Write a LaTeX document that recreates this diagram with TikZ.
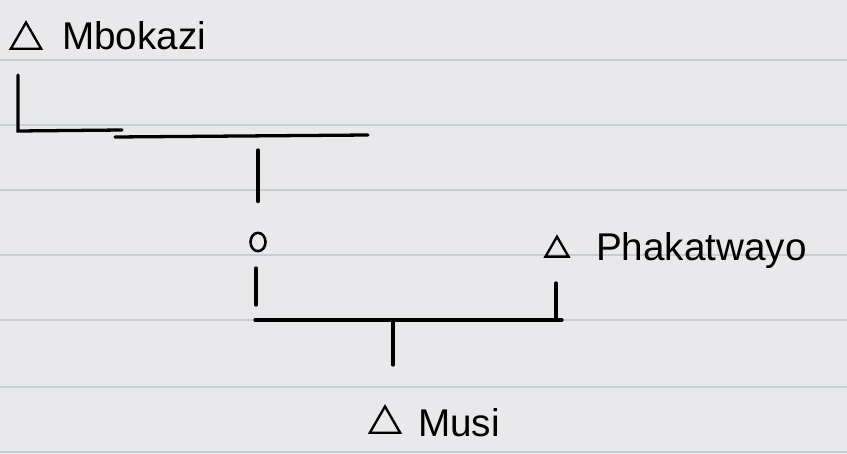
\documentclass[tikz,border=0pt]{standalone}
\usepackage{fontspec}
\setmainfont{Liberation Sans}
\usetikzlibrary{shapes.geometric}
\definecolor{paper}{RGB}{233,233,236}
\definecolor{ruling}{RGB}{198,205,216}
\begin{document}
\begin{tikzpicture}[x=0.03cm,y=-0.03cm,
  male/.style={draw,regular polygon,regular polygon sides=3,inner sep=0pt,
    minimum size=1.05cm,line width=2pt},
  female/.style={draw,ellipse,inner sep=0pt,minimum width=0.45cm,
    minimum height=0.55cm,line width=2.2pt},
  personname/.style={anchor=base west,font=\fontsize{33}{36}\selectfont},
  kin/.style={line width=2.8pt,line cap=round}]
  % paper and ruling
  \fill[paper] (0,0) rectangle (847,454);
  \useasboundingbox (0,0) rectangle (847,454);
  \foreach \y in {60,125,190,255,320,387,452}
    \draw[ruling,line width=0.9pt] (0,\y) -- (847,\y);
  % people
  \node[male] (mbokazi) at (26,40) {};
  \node[personname] (mbokaziname) at (58,50) {Mbokazi};
  \node[female] (her) at (258,242) {};
  \node[male,minimum size=0.8cm] (phakatwayo) at (557,250) {};
  \node[personname] (phakatwayoname) at (592,260) {Phakatwayo};
  \node[male] (musi) at (385,424) {};
  \node[personname] (musiname) at (414,436) {Musi};
  % junctions
  \coordinate (mTop) at (18,75);
  \coordinate (mCorner) at (18,131);
  \coordinate (mEnd) at (122,130);
  \coordinate (wL) at (115,137);
  \coordinate (wR) at (368,135);
  \coordinate (wD) at (258,150);
  \coordinate (hTop) at (256,268);
  \coordinate (hBot) at (256,305);
  \coordinate (cL) at (255,320);
  \coordinate (cR) at (562,320);
  \coordinate (cM) at (393,322);
  \coordinate (cMd) at (393,365);
  \coordinate (pTop) at (556,283);
  \coordinate (pBot) at (556,318);
  % lines of descent
  \draw[kin] (mTop) -- (mCorner) -- (mEnd);
  \draw[kin] (wL) -- (wR);
  \draw[kin,shorten >=0.9cm] (wD) -- (her);
  \draw[kin] (hTop) -- (hBot);
  \draw[kin] (cL) -- (cR);
  \draw[kin] (pTop) -- (pBot);
  \draw[kin] (cM) -- (cMd);
\end{tikzpicture}
\end{document}
